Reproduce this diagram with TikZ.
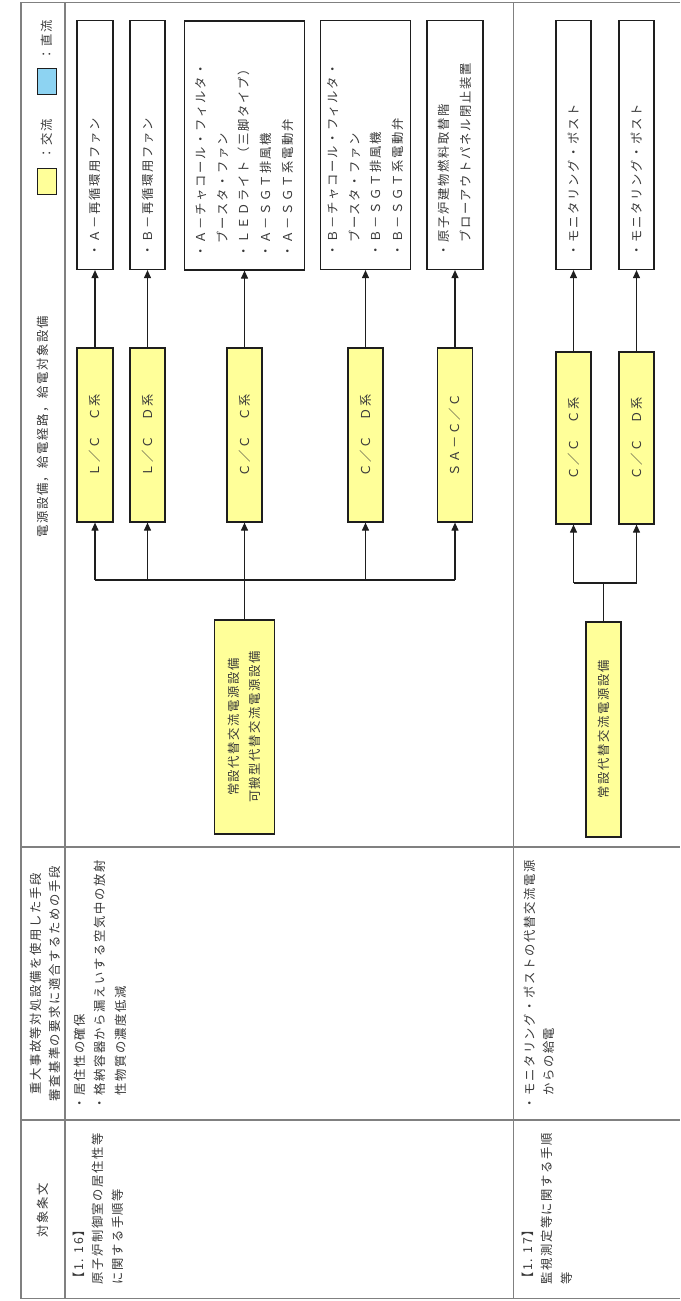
\documentclass[tikz,border=0pt]{standalone}
\usepackage{fontspec}
\newfontfamily\jpfont[LetterSpace=13.5]{Noto Sans CJK JP}
\usetikzlibrary{arrows.meta}
\definecolor{txtgray}{HTML}{383838}
\definecolor{boxline}{HTML}{1E1E1E}
\definecolor{tablegray}{HTML}{808080}
\definecolor{acyellow}{HTML}{FFFF99}
\definecolor{dcblue}{HTML}{8DD3F2}
\newcommand\jpbox{\jpfont\fontsize{12.3pt}{21.6pt}\selectfont}
\newcommand\jprow{\jpfont\fontsize{12.3pt}{19.5pt}\selectfont}
\newcommand\jphead{\jpfont\fontsize{12.3pt}{19pt}\selectfont}
\tikzset{
  tline/.style={draw=tablegray, line width=1.3pt},
  tbox/.style={draw=boxline, line width=1.2pt, rotate=90, inner sep=0pt, align=left, font=\jpbox, text=txtgray},
  ybox/.style={draw=boxline, fill=acyellow, line width=1.2pt, rotate=90, inner sep=0pt, align=center, font=\jpbox, text=txtgray},
  celltext/.style={rotate=90, anchor=north west, inner sep=0pt, align=left, font=\jprow, text=txtgray},
  headtext/.style={rotate=90, inner sep=0pt, align=center, font=\jphead, text=txtgray},
  legendbox/.style={draw=boxline, line width=0.9pt, minimum width=19pt, minimum height=26pt, inner sep=0pt},
  conn/.style={draw=boxline, line width=1.1pt},
  arr/.style={draw=boxline, line width=1.1pt, -{Triangle[length=8pt,width=7pt]}},
}
\begin{document}
\begin{tikzpicture}[x=1pt,y=-1pt]
\useasboundingbox (0,0) rectangle (680,1301);
\fill[white] (0,0) rectangle (680,1301);

% table grid
\draw[tline] (680,2.7) -- (21,2.7) -- (21,1298.5) -- (680,1298.5);
\draw[tline] (65,2.7) -- (65,1298.5);
\draw[tline] (513.5,2.7) -- (513.5,1298.5);
\draw[tline] (21,847) -- (680,847);
\draw[tline] (21,1120) -- (680,1120);

% header row
\node[headtext] (h1) at (43,427) {電源設備，給電経路，給電対象設備};
\node[legendbox, fill=acyellow] (legac) at (46.5,181) {};
\node[headtext] (legact) at (47,139) {：交流};
\node[legendbox, fill=dcblue] (legdc) at (46.5,81) {};
\node[headtext] (legdct) at (47,40) {：直流};
\node[headtext] (h2) at (45,984) {重大事故等対処設備を使用した手段\\審査基準の要求に適合するための手段};
\node[headtext] (h3) at (43,1210) {対象条文};

% row 1.16 texts
\node[celltext] (c116a) at (72.8,1285) {【1. 16】\\原子炉制御室の居住性等\\に関する手順等};
\node[celltext, font=\jpfont\fontsize{12.3pt}{20.5pt}\selectfont] (c116b) at (73.5,1110) {・居住性の確保\\・格納容器から漏えいする空気中の放射\\　性物質の濃度低減};

% row 1.17 texts
\node[celltext] (c117a) at (521.8,1285) {【1. 17】\\監視測定等に関する手順\\等};
\node[celltext] (c117b) at (523.8,1110) {・モニタリング・ポストの代替交流電源\\　からの給電};

% target boxes
\node[tbox, minimum width=249pt, minimum height=36pt, text width=223pt] (t1) at (95,145) {・Ａ－再循環用ファン};
\node[tbox, minimum width=249pt, minimum height=35pt, text width=223pt] (t2) at (147.5,145) {・Ｂ－再循環用ファン};
\node[tbox, minimum width=249pt, minimum height=120pt, text width=223pt] (t3) at (244.5,145.5) {・Ａ－チャコール・フィルタ・\\　ブースタ・ファン\\・ＬＥＤライト（三脚タイプ）\\・Ａ－ＳＧＴ排風機\\・Ａ－ＳＧＴ系電動弁};
\node[tbox, minimum width=249pt, minimum height=90pt, text width=223pt] (t4) at (365.5,145) {・Ｂ－チャコール・フィルタ・\\　ブースタ・ファン\\・Ｂ－ＳＧＴ排風機\\・Ｂ－ＳＧＴ系電動弁};
\node[tbox, minimum width=249pt, minimum height=56pt, text width=223pt] (t5) at (455,145) {・原子炉建物燃料取替階\\　ブローアウトパネル閉止装置};
\node[tbox, minimum width=249pt, minimum height=35pt, text width=223pt] (t6) at (573.5,145) {・モニタリング・ポスト};
\node[tbox, minimum width=249pt, minimum height=35pt, text width=223pt] (t7) at (636.5,145) {・モニタリング・ポスト};

% distribution (yellow) boxes
\node[ybox, minimum width=174pt, minimum height=36pt] (y1) at (95,435) {Ｌ／Ｃ　Ｃ系};
\node[ybox, minimum width=174pt, minimum height=35pt] (y2) at (147.5,435) {Ｌ／Ｃ　Ｄ系};
\node[ybox, minimum width=174pt, minimum height=35pt] (y3) at (244.5,435) {Ｃ／Ｃ　Ｃ系};
\node[ybox, minimum width=174pt, minimum height=35pt] (y4) at (365.5,435) {Ｃ／Ｃ　Ｄ系};
\node[ybox, minimum width=174pt, minimum height=35pt] (y5) at (455,435) {ＳＡ－Ｃ／Ｃ};
\node[ybox, minimum width=172pt, minimum height=35pt] (y6) at (573.5,438) {Ｃ／Ｃ　Ｃ系};
\node[ybox, minimum width=172pt, minimum height=35pt] (y7) at (636.5,438) {Ｃ／Ｃ　Ｄ系};

% source boxes
\node[ybox, minimum width=214pt, minimum height=60pt] (s1) at (244.5,727) {常設代替交流電源設備\\可搬型代替交流電源設備};
\node[ybox, minimum width=215pt, minimum height=35pt] (s2) at (603.5,729.5) {常設代替交流電源設備};

% connectors: yellow -> targets
\draw[arr] (y1.east) -- (t1.west);
\draw[arr] (y2.east) -- (t2.west);
\draw[arr] (y3.east) -- (t3.west);
\draw[arr] (y4.east) -- (t4.west);
\draw[arr] (y5.east) -- (t5.west);
\draw[arr] (y6.east) -- (t6.west);
\draw[arr] (y7.east) -- (t7.west);

% bus 1.16
\coordinate (bus1) at (0,580);
\draw[conn] (y1.west |- bus1) -- (y5.west |- bus1);
\draw[arr] (s1.east) -- (y3.west);
\draw[arr] (y1.west |- bus1) -- (y1.west);
\draw[arr] (y2.west |- bus1) -- (y2.west);
\draw[arr] (y4.west |- bus1) -- (y4.west);
\draw[arr] (y5.west |- bus1) -- (y5.west);

% bus 1.17
\coordinate (bus2) at (0,583);
\draw[conn] (y6.west |- bus2) -- (y7.west |- bus2);
\draw[conn] (s2.east) -- (s2.east |- bus2);
\draw[arr] (y6.west |- bus2) -- (y6.west);
\draw[arr] (y7.west |- bus2) -- (y7.west);
\end{tikzpicture}
\end{document}
